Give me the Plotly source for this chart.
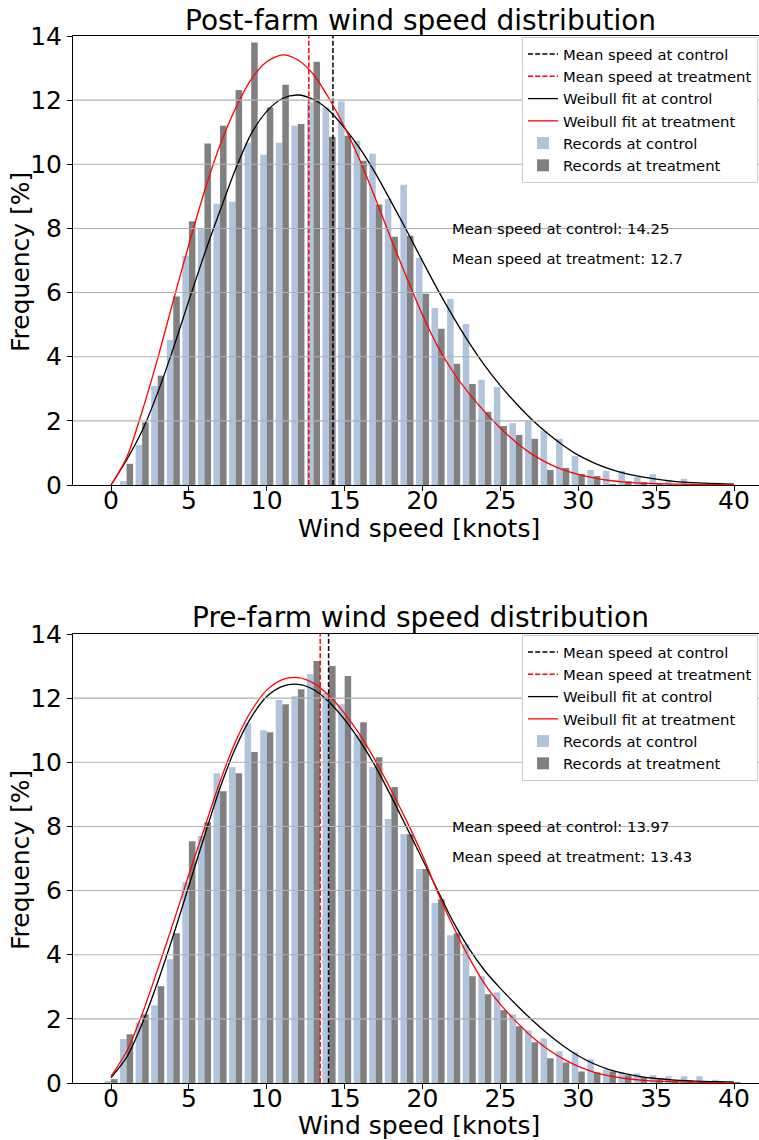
import plotly.graph_objects as go

FONT = "DejaVu Sans"

# ---------------- data ----------------
speed_bins = list(range(0, 41))          # knots
fit_x = list(range(0, 41))

post_control = [0, 0.12, 1.25, 3.09, 4.52, 7.14, 7.99, 8.77, 8.83, 10.67, 10.30, 10.67, 11.20, 11.93,
                11.78, 11.96, 10.73, 10.33, 8.92, 9.36, 7.08, 5.52, 5.80, 5.02, 3.28, 3.06, 1.93, 2.00,
                1.68, 1.44, 0.90, 0.47, 0.44, 0.44, 0.25, 0.34, 0.16, 0.19, 0, 0, 0]
post_treatment = [0, 0.66, 1.95, 3.41, 5.88, 8.22, 10.65, 11.20, 12.32, 13.80, 11.77, 12.48, 11.26, 13.20,
                  10.86, 10.89, 10.11, 8.75, 7.74, 7.77, 5.96, 4.87, 3.78, 3.15, 2.28, 1.84, 1.56, 1.44,
                  0.47, 0.53, 0.34, 0.28, 0.03, 0.12, 0.09, 0.03, 0, 0, 0, 0, 0]
pre_control = [0.05, 1.37, 1.89, 2.42, 3.86, 6.26, 7.70, 9.66, 9.85, 11.22, 11.00, 11.94, 12.06, 12.75,
               12.16, 11.81, 10.85, 9.85, 8.23, 7.76, 6.67, 5.61, 4.61, 4.33, 3.33, 2.83, 2.14, 1.64,
               1.39, 0.99, 0.96, 0.74, 0.43, 0.33, 0.30, 0.24, 0.21, 0.21, 0.21, 0.10, 0.05]
pre_treatment = [0.12, 1.52, 2.14, 3.02, 4.67, 7.54, 8.13, 9.10, 9.66, 10.32, 10.94, 11.81, 12.28, 13.16,
                 13.00, 12.69, 11.25, 10.16, 9.23, 7.76, 6.67, 5.73, 4.67, 3.33, 2.77, 2.27, 1.77, 1.27,
                 0.77, 0.64, 0.36, 0.33, 0.36, 0.24, 0.18, 0.11, 0.08, 0.05, 0.03, 0.02, 0.01]

post_fit_control = [0, 0.78, 1.69, 2.88, 4.26, 5.75, 7.20, 8.55, 9.85, 10.95, 11.65, 12.05, 12.16, 12.02,
                    11.68, 11.13, 10.48, 9.70, 8.82, 7.92, 6.98, 6.07, 5.22, 4.43, 3.72, 3.10, 2.55, 2.05,
                    1.62, 1.25, 0.93, 0.69, 0.50, 0.36, 0.26, 0.18, 0.12, 0.08, 0.06, 0.04, 0.03]
post_fit_treatment = [0, 0.85, 2.30, 3.95, 5.75, 7.50, 9.15, 10.60, 11.75, 12.65, 13.20, 13.41, 13.25, 12.80,
                      12.05, 11.15, 10.10, 8.90, 7.65, 6.45, 5.30, 4.30, 3.50, 2.85, 2.28, 1.78, 1.33, 0.97,
                      0.69, 0.48, 0.33, 0.22, 0.14, 0.09, 0.06, 0.04, 0.03, 0.02, 0.015, 0.01, 0.01]
pre_fit_control = [0.17, 0.80, 1.85, 3.15, 4.60, 6.15, 7.70, 9.20, 10.45, 11.40, 12.05, 12.37, 12.43, 12.27,
                   11.88, 11.33, 10.65, 9.85, 8.93, 7.95, 6.97, 5.98, 5.00, 4.18, 3.50, 2.95, 2.45, 1.98,
                   1.55, 1.17, 0.85, 0.60, 0.42, 0.29, 0.20, 0.14, 0.10, 0.07, 0.05, 0.04, 0.03]
pre_fit_treatment = [0.21, 0.98, 2.15, 3.55, 5.00, 6.50, 7.95, 9.40, 10.65, 11.60, 12.25, 12.58, 12.64, 12.47,
                     12.08, 11.52, 10.85, 10.03, 9.12, 8.15, 7.10, 5.92, 4.85, 3.90, 3.08, 2.45, 1.92, 1.45,
                     1.07, 0.76, 0.52, 0.34, 0.22, 0.14, 0.09, 0.06, 0.04, 0.03, 0.02, 0.01, 0.01]

post_mean_control = 14.25
post_mean_treatment = 12.7
pre_mean_control = 13.97
pre_mean_treatment = 13.43

titles = ["Post-farm wind speed distribution", "Pre-farm wind speed distribution"]
x_label = "Wind speed [knots]"
y_label = "Frequency [%]"
x_ticks = [0, 5, 10, 15, 20, 25, 30, 35, 40]
y_ticks = [0, 2, 4, 6, 8, 10, 12, 14]
Y_MAX = 14
annot_x = 21.75
annot_y = [8.0, 7.07]

# ---------------- styles ----------------
C_CTRL_BAR = "#b0c4de"
C_TREAT_BAR = "#808080"
W, H = 759, 1140
ML, MT, MB = 73, 36, 57
plot_h = H - MT - MB
plot_w = W - ML
top_dom = [(1083 - 485) / plot_h, 1.0]
bot_dom = [0.0, (1083 - 634) / plot_h]
x_range = [-2.44, -2.44 + plot_w / 15.575]
SMALL = 14.8


def py(px):  # pixel row -> paper y
    return (1083 - px) / plot_h


def px_(px):  # pixel column -> paper x
    return (px - ML) / plot_w


fig = go.Figure()

panels = [
    dict(xa="x", ya="y", leg="legend", ctrl=post_control, trt=post_treatment,
         fc=post_fit_control, ft=post_fit_treatment, mc=post_mean_control, mt=post_mean_treatment),
    dict(xa="x2", ya="y2", leg="legend2", ctrl=pre_control, trt=pre_treatment,
         fc=pre_fit_control, ft=pre_fit_treatment, mc=pre_mean_control, mt=pre_mean_treatment),
]

for p in panels:
    common = dict(xaxis=p["xa"], yaxis=p["ya"], legend=p["leg"])
    fig.add_trace(go.Scatter(x=[p["mc"], p["mc"]], y=[0, Y_MAX], mode="lines",
                             line=dict(color="black", width=1.5, dash="5px,2.2px"),
                             name="Mean speed at control", **common))
    fig.add_trace(go.Scatter(x=[p["mt"], p["mt"]], y=[0, Y_MAX], mode="lines",
                             line=dict(color="red", width=1.5, dash="5px,2.2px"),
                             name="Mean speed at treatment", **common))
    fig.add_trace(go.Scatter(x=fit_x, y=p["fc"], mode="lines",
                             line=dict(color="black", width=1.3, shape="spline", smoothing=0.8),
                             name="Weibull fit at control", **common))
    fig.add_trace(go.Scatter(x=fit_x, y=p["ft"], mode="lines",
                             line=dict(color="red", width=1.3, shape="spline", smoothing=0.8),
                             name="Weibull fit at treatment", **common))
    fig.add_trace(go.Bar(x=speed_bins, y=p["ctrl"], marker=dict(color=C_CTRL_BAR, line=dict(width=0)),
                         name="Records at control", **common))
    fig.add_trace(go.Bar(x=speed_bins, y=p["trt"], marker=dict(color=C_TREAT_BAR, line=dict(width=0)),
                         name="Records at treatment", **common))

axis_x = dict(range=x_range, tickmode="array", tickvals=x_ticks, ticks="outside", ticklen=5,
              tickwidth=1, tickcolor="black", showline=True, linecolor="black", linewidth=1,
              mirror=True, showgrid=False, zeroline=False, automargin=False,
              ticklabelstandoff=-12,
              tickfont=dict(size=25, color="black", family=FONT))
axis_y = dict(range=[0, Y_MAX], tickmode="array", tickvals=y_ticks, ticks="outside", ticklen=5,
              tickwidth=1, tickcolor="black", showline=True, linecolor="black", linewidth=1,
              showgrid=False, zeroline=False, automargin=False,
              tickfont=dict(size=25, color="black", family=FONT))

legend_style = dict(xanchor="right", yanchor="top", bgcolor="white", bordercolor="#cccccc",
                    borderwidth=1, font=dict(size=SMALL, color="black", family=FONT),
                    traceorder="normal", itemwidth=30)

fig.update_layout(
    width=W, height=H,
    margin=dict(l=ML, r=0, t=MT, b=MB, autoexpand=False),
    paper_bgcolor="white", plot_bgcolor="white",
    font=dict(family=FONT, color="black"),
    barmode="group", bargap=0.16, bargroupgap=0,
    xaxis=dict(domain=[0, 1], anchor="y", **axis_x),
    yaxis=dict(domain=top_dom, anchor="x", **axis_y),
    xaxis2=dict(domain=[0, 1], anchor="y2", **axis_x),
    yaxis2=dict(domain=bot_dom, anchor="x2", **axis_y),
    legend=dict(x=px_(758), y=py(37), **legend_style),
    legend2=dict(x=px_(758), y=py(635), **legend_style),
)

# horizontal grid lines (drawn above bars like the matplotlib original)
for ya in ["y", "y2"]:
    for v in y_ticks[1:-1]:
        fig.add_shape(type="line", xref=f"x{ya[1:]} domain" if ya != "y" else "x domain",
                      yref=ya, x0=0, x1=1, y0=v, y1=v,
                      line=dict(color="#b0b0b0", width=1.1), layer="above")

# titles and axis labels
title_rows = [20, 617]
xlabel_rows = [528, 1125]
ylabel_rows = [262, 860]
for t, tr, xr, yr in zip(titles, title_rows, xlabel_rows, ylabel_rows):
    fig.add_annotation(text=t, xref="paper", yref="paper", x=px_(420), y=py(tr),
                       xanchor="center", yanchor="middle", showarrow=False,
                       font=dict(size=28, color="black", family=FONT))
    fig.add_annotation(text=x_label, xref="paper", yref="paper", x=px_(419), y=py(xr),
                       xanchor="center", yanchor="middle", showarrow=False,
                       font=dict(size=25, color="black", family=FONT))
    fig.add_annotation(text=y_label, xref="paper", yref="paper", x=px_(20), y=py(yr),
                       xanchor="center", yanchor="middle", showarrow=False, textangle=-90,
                       font=dict(size=25, color="black", family=FONT))

# mean annotations
for p in panels:
    texts = [f"Mean speed at control: {p['mc']}", f"Mean speed at treatment: {p['mt']}"]
    for txt, yy in zip(texts, annot_y):
        fig.add_annotation(text=txt, xref=p["xa"], yref=p["ya"], x=annot_x, y=yy,
                           xanchor="left", yanchor="middle", showarrow=False,
                           font=dict(size=SMALL, color="black", family=FONT))

fig.write_html("out.html")
